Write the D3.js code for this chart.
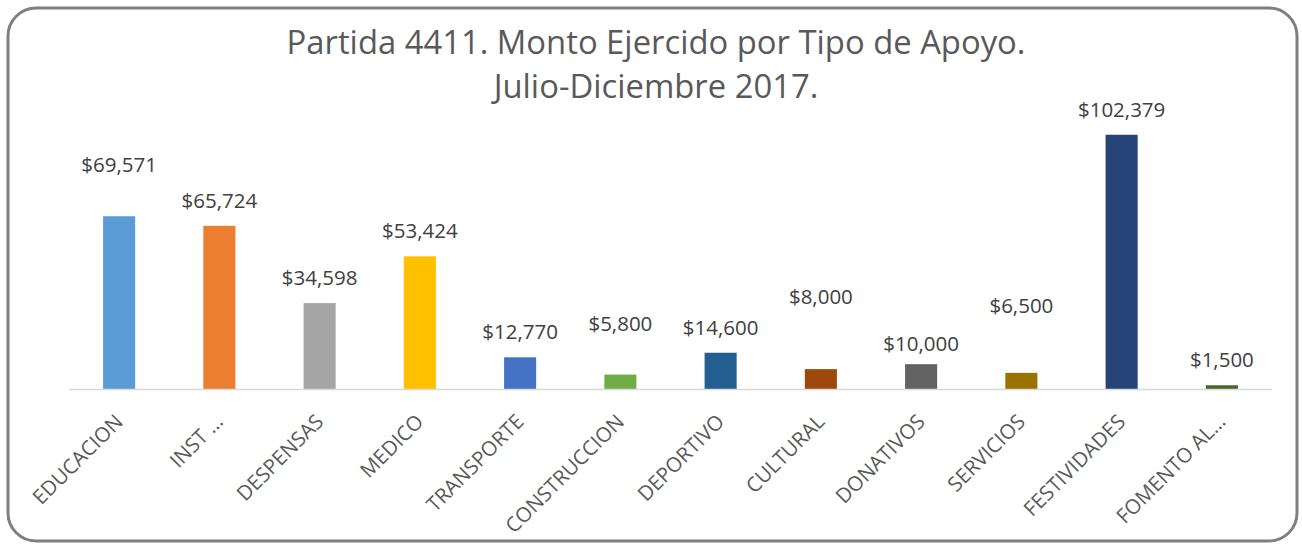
<!DOCTYPE html>
<html lang="es">
<head>
<meta charset="UTF-8">
<title>Partida 4411</title>
<script src="https://d3js.org/d3.v7.min.js"></script>
<style>
  body { margin: 0; background: #fff; }
  svg text { font-family: "Open Sans", sans-serif; }
</style>
</head>
<body>
<div id="chart"></div>
<script>
// data
const categories = ["EDUCACION", "INST …", "DESPENSAS", "MEDICO", "TRANSPORTE", "CONSTRUCCION",
                    "DEPORTIVO", "CULTURAL", "DONATIVOS", "SERVICIOS", "FESTIVIDADES", "FOMENTO AL…"];
const montos = [69571, 65724, 34598, 53424, 12770, 5800, 14600, 8000, 10000, 6500, 102379, 1500];
const colores = ["#5B9BD5", "#ED7D31", "#A5A5A5", "#FFC000", "#4472C4", "#70AD47",
                 "#255E91", "#9E480E", "#636363", "#997300", "#264478", "#43682B"];
// labels moved by hand in the original (px above the default spot)
const labelShift = [26, 0, 0, 0, 0, 26, 0, 47, -5, 42, 0, 0];
const titleLines = ["Partida 4411. Monto Ejercido por Tipo de Apoyo.", "Julio-Diciembre 2017."];

const width = 1302, height = 544;
const margin = { top: 91, right: 30, bottom: 155, left: 69 };
const baseY = height - margin.bottom; // 389

const svg = d3.select("#chart").append("svg")
    .attr("width", width)
    .attr("height", height);

// chart frame
svg.append("rect")
    .attr("x", 8).attr("y", 8)
    .attr("width", 1289).attr("height", 533)
    .attr("rx", 28).attr("ry", 28)
    .attr("fill", "#fff")
    .attr("stroke", "#7f7f7f")
    .attr("stroke-width", 3);

const x = d3.scaleBand()
    .domain(categories)
    .range([margin.left, width - margin.right])
    .paddingInner(0.68)
    .paddingOuter(0.34);

const y = d3.scaleLinear()
    .domain([0, 120000])
    .range([baseY, margin.top]);

// title
svg.append("text")
    .attr("text-anchor", "middle")
    .attr("fill", "#595959")
    .style("font-size", "32.8px")
    .selectAll("tspan")
    .data(titleLines)
    .join("tspan")
    .attr("x", 656)
    .attr("y", (d, i) => 54 + i * 44)
    .text(d => d);

// bars
svg.append("g")
    .selectAll("rect")
    .data(montos)
    .join("rect")
    .attr("x", (d, i) => x(categories[i]))
    .attr("y", d => y(d))
    .attr("width", x.bandwidth())
    .attr("height", d => baseY - y(d))
    .attr("fill", (d, i) => colores[i]);

// axis
const xAxis = svg.append("g")
    .attr("transform", `translate(0,${baseY})`)
    .call(d3.axisBottom(x).tickSize(0).tickPadding(0));
xAxis.select(".domain")
    .attr("stroke", "#d9d9d9")
    .attr("stroke-width", 1.5)
    .attr("d", `M${margin.left},0.5H${width - margin.right}`);
xAxis.selectAll(".tick text")
    .attr("fill", "#595959")
    .style("font-size", "20.5px")
    .attr("text-anchor", "end")
    .attr("y", 0).attr("dy", 0)
    .attr("transform", "translate(5,34) rotate(-45)");

// value labels
const fmt = d3.format("$,");
svg.append("g")
    .selectAll("text")
    .data(montos)
    .join("text")
    .attr("x", (d, i) => x(categories[i]) + x.bandwidth() / 2)
    .attr("y", (d, i) => y(d) - 18 - labelShift[i])
    .attr("text-anchor", "middle")
    .attr("fill", "#404040")
    .style("font-size", "20.5px")
    .text(d => fmt(d));
</script>
</body>
</html>
